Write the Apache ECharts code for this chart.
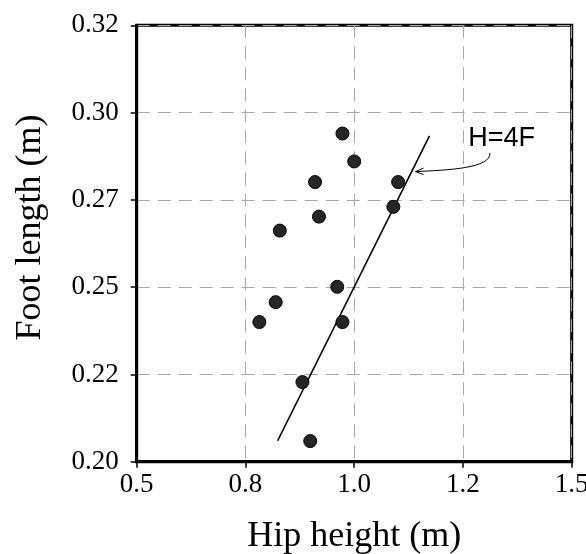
<!DOCTYPE html>
<html>
<head>
<meta charset="utf-8">
<script src="https://cdn.jsdelivr.net/npm/echarts@6/dist/echarts.min.js"></script>
<style>html,body{margin:0;padding:0;background:#fff}#c{width:586px;height:554px}</style>
</head>
<body>
<div id="c"></div>
<script>
// Data
const hipHeight = [0.973, 1.000, 0.910, 1.101, 1.090, 0.919, 0.829, 0.961, 0.8195, 0.782, 0.973, 0.881, 0.899];
const footLength = [0.294, 0.286, 0.2801, 0.2801, 0.273, 0.2702, 0.2662, 0.2501, 0.2457, 0.240, 0.240, 0.2228, 0.2059];
const lineH = [0.824, 1.173];
const lineF = [0.206, 0.2933];
const xTickLabels = ['0.5', '0.8', '1.0', '1.2', '1.5'];
const yTickLabels = ['0.20', '0.22', '0.25', '0.27', '0.30', '0.32'];
const annotText = 'H=4F';
const annotTextPos = [1.339, 0.2927];
const annotArrowStart = [1.312, 0.2884];
const annotArrowEnd = [1.141, 0.2831];

const chart = echarts.init(document.getElementById('c'));
const serif = 'Liberation Serif';
const points = hipHeight.map((h, i) => [h, footLength[i]]);
const lineData = lineH.map((h, i) => [h, lineF[i]]);

chart.setOption({
  animation: false,
  grid: { left: 136.7, right: 14.3, top: 25.3, bottom: 92.3, show: true, borderColor: '#000', borderWidth: 3,
    containLabel: false, outerBoundsMode: 'none' },
  xAxis: {
    type: 'value', min: 0.5, max: 1.5, interval: 0.25,
    name: 'Hip height (m)', nameLocation: 'middle', nameGap: 57,
    nameTextStyle: { fontFamily: serif, fontSize: 36, color: '#000' },
    axisLine: { show: true, lineStyle: { color: '#000', width: 3 } },
    axisTick: { show: true, inside: false, length: 6, lineStyle: { color: '#000', width: 1.5 } },
    axisLabel: { margin: 10, fontFamily: serif, fontSize: 27, color: '#000',
      formatter: (v, i) => xTickLabels[i] },
    splitLine: { show: true, lineStyle: { color: '#a8a8a8', width: 1, type: [13, 8] } }
  },
  yAxis: {
    type: 'value', min: 0.2, max: 0.325, interval: 0.025,
    name: 'Foot length (m)', nameLocation: 'middle', nameGap: 88,
    nameTextStyle: { fontFamily: serif, fontSize: 36, color: '#000', padding: [0, 0, 0, 32] },
    axisLine: { show: true, lineStyle: { color: '#000', width: 3 } },
    axisTick: { show: true, inside: false, length: 6, lineStyle: { color: '#000', width: 1.5 } },
    axisLabel: { margin: 18, fontFamily: serif, fontSize: 27, color: '#000',
      formatter: (v, i) => yTickLabels[i] },
    splitLine: { show: true, lineStyle: { color: '#a8a8a8', width: 1, type: [13, 8] } }
  },
  series: [
    {
      type: 'line', data: lineData, symbol: 'none',
      lineStyle: { color: '#000', width: 1.6 }, z: 3
    },
    {
      type: 'scatter', data: points, symbol: 'circle', symbolSize: 13,
      itemStyle: { color: '#262626', borderColor: '#000', borderWidth: 1, opacity: 1 }, z: 4
    }
  ]
});

const tp = chart.convertToPixel({ gridIndex: 0 }, annotTextPos);
const s = chart.convertToPixel({ gridIndex: 0 }, annotArrowStart);
const e = chart.convertToPixel({ gridIndex: 0 }, annotArrowEnd);
chart.setOption({
  graphic: [
    {
      type: 'text', x: tp[0], y: tp[1], z: 10,
      style: { text: annotText, font: '27px "Liberation Sans"', fill: '#000', align: 'center', verticalAlign: 'middle' }
    },
    {
      type: 'bezierCurve', z: 10,
      shape: { x1: s[0], y1: s[1], cpx1: s[0] + 1, cpy1: s[1] + 15, cpx2: e[0] + 34, cpy2: e[1] - 1.5, x2: e[0], y2: e[1] },
      style: { stroke: '#000', lineWidth: 1, fill: null }
    },
    {
      type: 'polyline', z: 10,
      shape: { points: [[e[0] + 8, e[1] - 3.5], [e[0], e[1]], [e[0] + 8, e[1] + 3]] },
      style: { stroke: '#000', lineWidth: 1, fill: null }
    }
  ]
});
</script>
</body>
</html>
